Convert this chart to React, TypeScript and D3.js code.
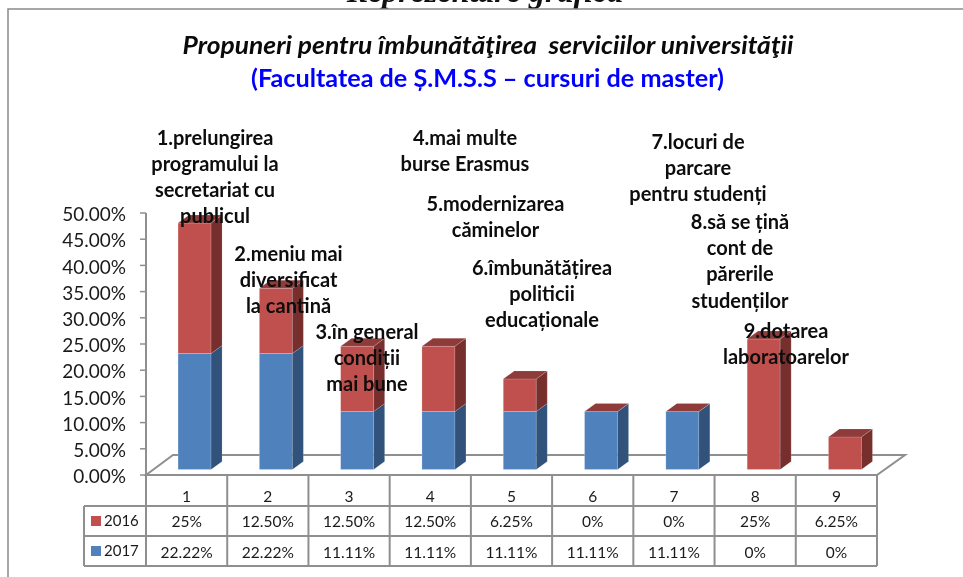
import React from "react";
import * as d3 from "d3";

const categories = ["1", "2", "3", "4", "5", "6", "7", "8", "9"];
const values2016 = [25, 12.5, 12.5, 12.5, 6.25, 0, 0, 25, 6.25];
const values2017 = [22.22, 22.22, 11.11, 11.11, 11.11, 11.11, 11.11, 0, 0];
const labels2016 = ["25%", "12.50%", "12.50%", "12.50%", "6.25%", "0%", "0%", "25%", "6.25%"];
const labels2017 = ["22.22%", "22.22%", "11.11%", "11.11%", "11.11%", "11.11%", "11.11%", "0%", "0%"];
const yTicks = [0, 5, 10, 15, 20, 25, 30, 35, 40, 45, 50];
const annotations: [number, number, string[]][] = [
  [215, 138, ["1.prelungirea", "programului la", "secretariat cu", "publicul"]],
  [288.5, 254, ["2.meniu mai", "diversificat", "la cantină"]],
  [367, 332.5, ["3.în general", "condiții", "mai bune"]],
  [465, 138, ["4.mai multe", "burse Erasmus"]],
  [495.5, 204, ["5.modernizarea", "căminelor"]],
  [542, 268.5, ["6.îmbunătățirea", "politicii", "educaționale"]],
  [698, 142.5, ["7.locuri de", "parcare", "pentru studenți"]],
  [740, 222.5, ["8.să se țină", "cont de", "părerile", "studenților"]],
  [786, 331, ["9.dotarea", "laboratoarelor"]],
];

const FONT = "Lato, Carlito, sans-serif";
const GRID = "#8f8f8f";
const RED = { front: "#C0504D", side: "#772F2D", top: "#8F3B39" };
const BLUE = { front: "#4F81BD", side: "#31527A", top: "#3C6494" };

export default function App() {
  const axisX = 146;
  const axisY = 475;
  const tableRight = 877;
  const rowYs = [475, 506, 536, 566];
  const depthX = 11;
  const depthY = 8;
  const baseY = 469.5;

  const y = d3.scaleLinear().domain([0, 50]).range([axisY, 213]);
  const h = d3.scaleLinear().domain([0, 50]).range([0, 261]);
  const band = d3.scaleBand<string>().domain(categories).range([153.9, 885.6]).paddingInner(0.594).paddingOuter(0.297);
  const col = d3.scaleBand<string>().domain(categories).range([axisX, tableRight]);

  const box = (x: number, y0: number, y1: number, w: number, c: typeof RED, withTop: boolean, key: string) => {
    const edge = "rgba(255,255,255,0.35)";
    return (
      <g key={key}>
        <rect x={x} y={y1} width={w} height={y0 - y1} fill={c.front} stroke={edge} strokeWidth={0.6} />
        <polygon
          points={`${x + w},${y0} ${x + w + depthX},${y0 - depthY} ${x + w + depthX},${y1 - depthY} ${x + w},${y1}`}
          fill={c.side}
          stroke={edge}
          strokeWidth={0.4}
        />
        {withTop && (
          <polygon
            points={`${x},${y1} ${x + depthX},${y1 - depthY} ${x + w + depthX},${y1 - depthY} ${x + w},${y1}`}
            fill={c.top}
            stroke={edge}
            strokeWidth={0.4}
          />
        )}
      </g>
    );
  };

  return (
    <svg
      width={963}
      height={577}
      style={{ position: "absolute", left: 0, top: 0, fontFamily: FONT, filter: "blur(0.4px)" }}
    >
      <rect width={963} height={577} fill="#fff" />
      <text x={485} y={2} textAnchor="middle" fontFamily="'Liberation Serif', serif" fontWeight="bold" fontStyle="italic" fontSize={32} fill="#111">
        Reprezentare grafică
      </text>
      <path d="M8,577 V9 H963" fill="none" stroke="#8a8a8a" strokeWidth={1.5} />

      <text x={488} y={54} textAnchor="middle" fontWeight="bold" fontStyle="italic" fontSize={25} fill="#0a0a0a" textLength={611} lengthAdjust="spacingAndGlyphs" style={{ whiteSpace: "pre" }}>
        {"Propuneri pentru îmbunătăţirea  serviciilor universităţii"}
      </text>
      <text x={487.5} y={87} textAnchor="middle" fontWeight="bold" fontSize={25} fill="#0000FF" textLength={473} lengthAdjust="spacingAndGlyphs">
        (Facultatea de Ș.M.S.S – cursuri de master)
      </text>

      {/* floor */}
      <path
        d={`M${axisX},${axisY} L173,455 H905 L${tableRight},${axisY} Z`}
        fill="#fff"
        stroke={GRID}
        strokeWidth={2}
      />

      {/* y axis */}
      <line x1={axisX} x2={axisX} y1={y(50)} y2={axisY} stroke={GRID} strokeWidth={2} />
      {yTicks.map((t) => (
        <g key={t}>
          <line x1={140} x2={axisX} y1={y(t)} y2={y(t)} stroke={GRID} strokeWidth={1.5} />
          <text x={126} y={y(t) + 1.5} dy="0.35em" textAnchor="end" fontSize={19} fill="#1a1a1a">
            {t.toFixed(2)}%
          </text>
        </g>
      ))}

      {/* bars */}
      {categories.map((c, i) => {
        const x = band(c)!;
        const w = band.bandwidth();
        const y2017 = baseY - h(values2017[i]);
        const y2016 = y2017 - h(values2016[i]);
        return (
          <g key={c}>
            {values2017[i] > 0 && box(x, baseY, y2017, w, BLUE, false, `b${c}`)}
            {box(x, y2017, y2016, w, RED, true, `r${c}`)}
          </g>
        );
      })}

      {/* data table */}
      <g stroke={GRID} strokeWidth={2} fill="none">
        {rowYs.map((ry, i) => (
          <line key={ry} x1={i === 0 ? axisX : 84} x2={tableRight} y1={ry} y2={ry} />
        ))}
        <line x1={84} x2={84} y1={rowYs[1]} y2={rowYs[3]} />
        {categories.map((c) => (
          <line key={c} x1={col(c)!} x2={col(c)!} y1={rowYs[0]} y2={rowYs[3]} />
        ))}
        <line x1={tableRight} x2={tableRight} y1={rowYs[0]} y2={rowYs[3]} />
      </g>
      <g fontSize={15.5} fill="#1a1a1a" textAnchor="middle">
        {categories.map((c, i) => {
          const cx = col(c)! + col.bandwidth() / 2;
          return (
            <g key={c}>
              <text x={cx} y={502}>{c}</text>
              <text x={cx} y={527}>{labels2016[i]}</text>
              <text x={cx} y={558}>{labels2017[i]}</text>
            </g>
          );
        })}
      </g>
      <rect x={91} y={516} width={10} height={10} fill={RED.front} />
      <rect x={91} y={546} width={10} height={10} fill={BLUE.front} />
      <text x={104} y={526} fontSize={15} fill="#1a1a1a">2016</text>
      <text x={104} y={556} fontSize={15} fill="#1a1a1a">2017</text>

      {/* annotations */}
      <g fontSize={20} fontWeight="bold" fill="#0d0d0d" textAnchor="middle">
        {annotations.map(([ax, ay, lines]) => (
          <text key={lines[0]} x={ax} y={ay + 6.5}>
            {lines.map((l, i) => (
              <tspan key={l} x={ax} y={ay + 6.5 + i * 26.2}>{l}</tspan>
            ))}
          </text>
        ))}
      </g>
    </svg>
  );
}
